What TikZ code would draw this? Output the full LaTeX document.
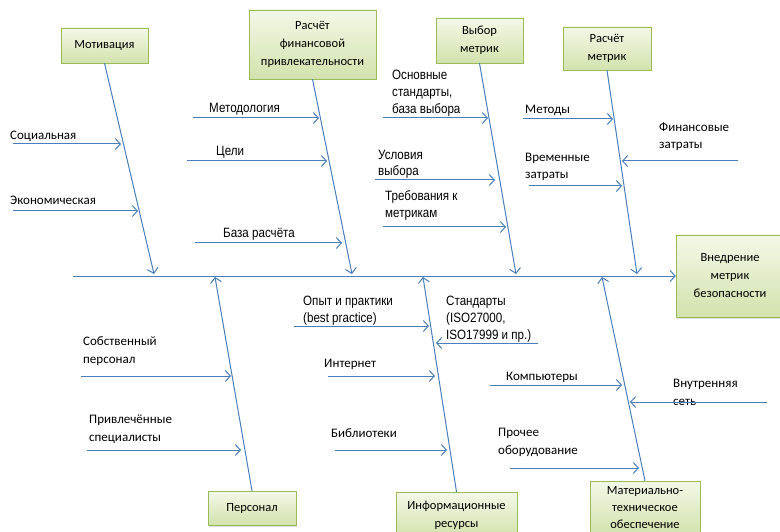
\documentclass[tikz,border=0pt]{standalone}
\usepackage{fontspec}
\setmainfont{Carlito}
\newfontfamily\narfont[FakeStretch=0.86]{Liberation Sans}
\usetikzlibrary{arrows.meta,shadows}
\definecolor{bone}{HTML}{4A7EBB}
\definecolor{boxline}{HTML}{9BBB59}
\definecolor{boxtop}{HTML}{F3F8E8}
\definecolor{boxbot}{HTML}{D2E2AC}

\begin{document}
\begin{tikzpicture}[
        x=1pt,y=-1pt,
        every node/.append style={inner sep=0pt}
    ]
    \tikzstyle{cat}=[draw=boxline,top color=boxtop,bottom color=boxbot,align=center,
        font=\fontsize{12.5}{18}\selectfont,
        drop shadow={opacity=0.25,shadow xshift=1pt,shadow yshift=-1.5pt}];
    \tikzstyle{arr}=[draw=bone,line width=1pt,-{Straight Barb[length=5pt,width=11pt]}];
    \tikzstyle{lbl}=[anchor=base west,align=left,font=\fontsize{13}{17.5}\selectfont];
    \tikzstyle{nlbl}=[lbl,font=\narfont\fontsize{13.5}{17}\selectfont];
    \path[use as bounding box,clip] (0,0) rectangle (780,532);
    % spine
    \node[cat,minimum width=108pt,minimum height=82pt] (eff) at (730,276) {Внедрение\\метрик\\безопасности};
    \coordinate (tail) at (73,276);
    \draw[arr] (tail) -- (eff.west);
    % first
    \node[cat,minimum width=87pt,minimum height=35pt] (mot) at (104.5,45.5) {Мотивация};
    \coordinate (mot0) at (154,274);
    \coordinate (mot1) at (13,144); \coordinate (mot1e) at (121,144);
    \coordinate (mot2) at (13,211); \coordinate (mot2e) at (138,211);
    \node[lbl] (mot1l) at (10,140) {Социальная};
    \node[lbl] (mot2l) at (10,205) {Экономическая};
    \draw[arr] (mot.south) -- (mot0);
    \draw[arr] (mot1) -- (mot1e);
    \draw[arr] (mot2) -- (mot2e);
    % second
    \node[cat,minimum width=127pt,minimum height=69pt] (fin) at (312.5,44.5) {Расчёт\\финансовой\\привлекательности};
    \coordinate (fin0) at (352,274);
    \coordinate (fin1) at (193,118); \coordinate (fin1e) at (319,118);
    \coordinate (fin2) at (187,161); \coordinate (fin2e) at (327,161);
    \coordinate (fin3) at (195,243); \coordinate (fin3e) at (342,243);
    \node[nlbl] (fin1l) at (209,113) {Методология};
    \node[nlbl] (fin2l) at (216,156) {Цели};
    \node[nlbl] (fin3l) at (223,238) {База расчёта};
    \draw[arr] (fin.south) -- (fin0);
    \draw[arr] (fin1) -- (fin1e);
    \draw[arr] (fin2) -- (fin2e);
    \draw[arr] (fin3) -- (fin3e);
    % third
    \node[cat,minimum width=87pt,minimum height=45pt] (vyb) at (479.5,40.5) {Выбор\\метрик};
    \coordinate (vyb0) at (516,274);
    \coordinate (vyb1) at (383,118); \coordinate (vyb1e) at (488,118);
    \coordinate (vyb2) at (375,180); \coordinate (vyb2e) at (495,180);
    \coordinate (vyb3) at (383,227); \coordinate (vyb3e) at (506,227);
    \node[nlbl] (vyb1l) at (392,114) {Основные\\стандарты,\\база выбора};
    \node[nlbl] (vyb2l) at (378,176) {Условия\\выбора};
    \node[nlbl] (vyb3l) at (385,218) {Требования к\\метрикам};
    \draw[arr] (vyb.south) -- (vyb0);
    \draw[arr] (vyb1) -- (vyb1e);
    \draw[arr] (vyb2) -- (vyb2e);
    \draw[arr] (vyb3) -- (vyb3e);
    % fourth
    \node[cat,minimum width=88pt,minimum height=43pt] (ras) at (607,48.5) {Расчёт\\метрик};
    \coordinate (ras0) at (637,274);
    \coordinate (ras1) at (523,119); \coordinate (ras1e) at (613,119);
    \coordinate (ras2) at (529,186); \coordinate (ras2e) at (622,186);
    \coordinate (ras3) at (738,161); \coordinate (ras3e) at (622,161);
    \node[lbl] (ras1l) at (525,114) {Методы};
    \node[lbl] (ras2l) at (525,179) {Временные\\затраты};
    \node[lbl] (ras3l) at (659,149) {Финансовые\\затраты};
    \draw[arr] (ras.south) -- (ras0);
    \draw[arr] (ras1) -- (ras1e);
    \draw[arr] (ras2) -- (ras2e);
    \draw[arr] (ras3) -- (ras3e);
    % fifth
    \node[cat,minimum width=88pt,minimum height=34pt] (per) at (252,508) {Персонал};
    \coordinate (per0) at (215,277);
    \coordinate (per1) at (81,376); \coordinate (per1e) at (231,376);
    \coordinate (per2) at (87,450); \coordinate (per2e) at (241,450);
    \node[lbl] (per1l) at (83,363) {Собственный\\персонал};
    \node[lbl] (per2l) at (89,441) {Привлечённые\\специалисты};
    \draw[arr] (per.north) -- (per0);
    \draw[arr] (per1) -- (per1e);
    \draw[arr] (per2) -- (per2e);
    % sixth
    \node[cat,minimum width=121pt,minimum height=46pt] (inf) at (456.5,515) {Информационные\\ресурсы};
    \coordinate (inf0) at (423,277);
    \coordinate (inf1) at (294,326); \coordinate (inf1e) at (429,326);
    \coordinate (inf2) at (538,343); \coordinate (inf2e) at (436,343);
    \coordinate (inf3) at (328,376); \coordinate (inf3e) at (435,376);
    \coordinate (inf4) at (335,450); \coordinate (inf4e) at (447,450);
    \node[nlbl] (inf1l) at (303,322) {Опыт и практики\\(best practice)};
    \node[nlbl] (inf2l) at (446,339) {Стандарты\\(ISO27000,\\ISO17999 и пр.)};
    \node[lbl] (inf3l) at (324,367) {Интернет};
    \node[lbl] (inf4l) at (331,437) {Библиотеки};
    \draw[arr] (inf.north) -- (inf0);
    \draw[arr] (inf1) -- (inf1e);
    \draw[arr] (inf2) -- (inf2e);
    \draw[arr] (inf3) -- (inf3e);
    \draw[arr] (inf4) -- (inf4e);
    % last
    \node[cat,minimum width=110pt,minimum height=54pt,font=\fontsize{12.5}{17}\selectfont] (mat) at (645,508) {Материально-\\техническое\\обеспечение};
    \coordinate (mat0) at (602,277);
    \coordinate (mat1) at (490,385); \coordinate (mat1e) at (622,385);
    \coordinate (mat2) at (767,402); \coordinate (mat2e) at (630,402);
    \coordinate (mat3) at (510,468); \coordinate (mat3e) at (639,468);
    \node[lbl] (mat1l) at (506,380) {Компьютеры};
    \node[lbl] (mat2l) at (673,405) {Внутренняя\\сеть};
    \node[lbl] (mat3l) at (498,454) {Прочее\\оборудование};
    \draw[arr] (mat.north) -- (mat0);
    \draw[arr] (mat1) -- (mat1e);
    \draw[arr] (mat2) -- (mat2e);
    \draw[arr] (mat3) -- (mat3e);
\end{tikzpicture}
\end{document}
